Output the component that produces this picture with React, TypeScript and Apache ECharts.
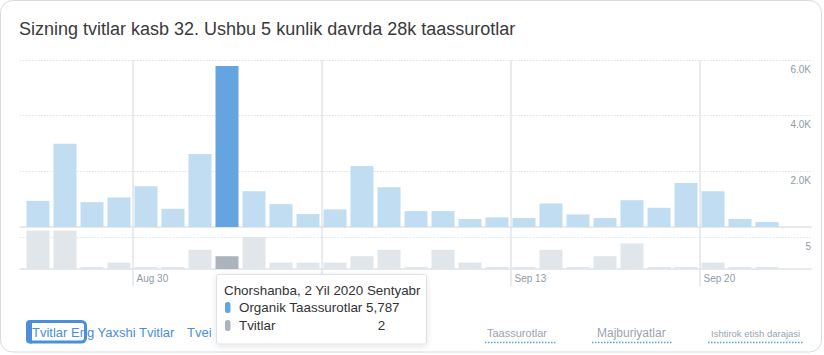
import React, { useEffect, useRef } from 'react';
import * as echarts from 'echarts';

const titleText = 'Sizning tvitlar kasb 32. Ushbu 5 kunlik davrda 28k taassurotlar';

const days = [
  'Aug 26', 'Aug 27', 'Aug 28', 'Aug 29', 'Aug 30', 'Aug 31', 'Sep 1',
  'Sep 2', 'Sep 3', 'Sep 4', 'Sep 5', 'Sep 6', 'Sep 7', 'Sep 8',
  'Sep 9', 'Sep 10', 'Sep 11', 'Sep 12', 'Sep 13', 'Sep 14', 'Sep 15',
  'Sep 16', 'Sep 17', 'Sep 18', 'Sep 19', 'Sep 20', 'Sep 21', 'Sep 22',
];

const organic = [
  940, 2990, 893, 1060, 1464, 655, 2619,
  5787, 1286, 821, 464, 631, 2190, 1429,
  571, 571, 286, 345, 321, 845, 452,
  321, 964, 690, 1583, 1286, 286, 179,
];

const tweets = [
  6, 6, 0, 1, 0, 0, 3,
  2, 5, 1, 1, 1, 2, 3,
  0, 3, 1, 0, 0, 3, 0,
  2, 4, 0, 0, 1, 0, 0,
];

const weekStartIdx = [4, 11, 18, 25];
const labeledDays = ['Aug 30', 'Sep 13', 'Sep 20'];
const organicMax = 6000;
const organicStep = 2000;
const tweetMax = 5;
const tweetStep = 5;

const seriesNames = ['Organik Taassurotlar', 'Tvitlar'];
const hoverIndex = 7;
const hoverDateLabel = 'Chorshanba, 2 Yil 2020 Sentyabr';
const leftTabText = 'Tvitlar Eng Yaxshi Tvitlar';
const cutTabText = 'Tvei';
const rightTabs = ['Taassurotlar', 'Majburiyatlar', 'Ishtirok etish darajasi'];

const FONT = '"Liberation Sans", Arial, Helvetica, sans-serif';
const LIGHT_BLUE = '#c1ddf2';
const DARK_BLUE = '#63a4e1';
const LIGHT_GRAY = '#e1e6ea';
const DARK_GRAY = '#abb4bd';
const LINE = '#e1e6ea';
const LABEL = '#8f9ba6';
const TAB_BLUE = '#4a8fd6';

function buildOption() {
  const gridLeft = 24.5;
  const gridW = days.length * 27;
  const noAxis = { show: false };
  const hiddenX = (gridIndex: number) => ({ gridIndex, type: 'category', data: days, show: false });
  const baselineX = (gridIndex: number) => ({
    gridIndex, type: 'value', min: 0, max: 1, position: 'bottom',
    axisLine: { show: true, lineStyle: { color: LINE, width: 1.5 } },
    axisTick: noAxis, axisLabel: noAxis, splitLine: noAxis,
  });
  const gridY = (gridIndex: number, max: number, step: number, fmt: (v: number) => string) => ({
    gridIndex, type: 'value', position: 'right', min: 0, max, interval: step,
    axisLine: noAxis, axisTick: noAxis,
    splitLine: { show: true, lineStyle: { color: '#dfe4e8', type: [1.5, 1.5], width: 1 } },
    axisLabel: {
      inside: true, margin: 0, showMinLabel: false, color: LABEL, fontSize: 10,
      fontFamily: FONT, verticalAlign: 'top', padding: [4, 0, 0, 0], formatter: fmt,
    },
  });
  const lineColors = Array.from({ length: 7 }, (_, k) =>
    k === weekStartIdx[0] % 7 ? LINE : 'rgba(0,0,0,0)');

  return {
    animation: false,
    textStyle: { fontFamily: FONT },
    grid: [
      { left: gridLeft, width: gridW, top: 60, height: 167, outerBoundsMode: 'none' },
      { left: gridLeft, width: gridW, top: 237, height: 32, outerBoundsMode: 'none' },
      { left: 20, width: 791, top: 60, height: 167, outerBoundsMode: 'none' },
      { left: 20, width: 791, top: 237, height: 32, outerBoundsMode: 'none' },
      { left: gridLeft, width: gridW, top: 60, height: 226, outerBoundsMode: 'none' },
      { left: gridLeft, width: gridW, top: 60, height: 209, outerBoundsMode: 'none' },
    ],
    xAxis: [
      hiddenX(0),
      hiddenX(1),
      baselineX(2),
      baselineX(3),
      {
        gridIndex: 4, type: 'value', min: 0, max: days.length, interval: 1,
        axisLine: noAxis, axisTick: noAxis, axisLabel: noAxis,
        splitLine: { show: true, lineStyle: { color: lineColors, width: 1.5 } },
      },
      {
        gridIndex: 5, type: 'value', min: 0, max: days.length, interval: 1,
        axisLine: noAxis, axisTick: noAxis, splitLine: noAxis,
        axisLabel: {
          show: true, margin: 4, align: 'left', padding: [0, 0, 0, 4],
          color: LABEL, fontSize: 10, fontFamily: FONT, hideOverlap: false,
          formatter: (v: number) => {
            const d = days[Math.round(v)];
            return d && labeledDays.includes(d) ? d : '';
          },
        },
      },
    ],
    yAxis: [
      { gridIndex: 0, type: 'value', min: 0, max: organicMax, show: false },
      { gridIndex: 1, type: 'value', min: 0, max: tweetMax, show: false },
      gridY(2, organicMax, organicStep, (v) => (v / 1000).toFixed(1) + 'K'),
      gridY(3, tweetMax, tweetStep, (v) => String(v)),
      { gridIndex: 4, type: 'value', show: false },
      { gridIndex: 5, type: 'value', show: false },
    ],
    series: [
      {
        name: seriesNames[0], type: 'bar', xAxisIndex: 0, yAxisIndex: 0, barWidth: 23, z: 3,
        data: organic.map((v, i) => ({
          value: v, itemStyle: { color: i === hoverIndex ? DARK_BLUE : LIGHT_BLUE },
        })),
      },
      {
        name: seriesNames[1], type: 'bar', xAxisIndex: 1, yAxisIndex: 1, barWidth: 23,
        barMinHeight: 2, clip: false, z: 3,
        data: tweets.map((v, i) => ({
          value: v, itemStyle: { color: i === hoverIndex ? DARK_GRAY : LIGHT_GRAY },
        })),
      },
    ],
    graphic: [
      {
        type: 'rect', z: -1, silent: true,
        shape: { x: 0.5, y: 0.5, width: 821, height: 351.5, r: 12 },
        style: { fill: 'rgba(0,0,0,0)', stroke: '#d5dce2', lineWidth: 1 },
      },
      {
        type: 'text', x: 19, y: 29,
        style: { text: titleText, fill: '#3a3a3a', font: `18px ${FONT}`, verticalAlign: 'middle' },
      },
      // left tabs
      {
        type: 'text', x: 32, y: 332,
        style: { text: leftTabText, fill: TAB_BLUE, font: `13px ${FONT}`, verticalAlign: 'middle' },
      },
      {
        type: 'text', x: 187, y: 332,
        style: { text: cutTabText, fill: TAB_BLUE, font: `13px ${FONT}`, verticalAlign: 'middle' },
      },
      {
        type: 'rect', z: 5,
        shape: { x: 27.5, y: 321.5, width: 58, height: 20.5, r: 4 },
        style: { fill: 'rgba(0,0,0,0)', stroke: '#4b8fdc', lineWidth: 3 },
      },
      {
        type: 'rect', z: 5,
        shape: { x: 26, y: 320, width: 6, height: 23.5, r: [4, 0, 0, 4] },
        style: { fill: '#4b8fdc' },
      },
      // right tabs
      {
        type: 'text', x: 487, y: 333,
        style: { text: rightTabs[0], fill: '#9aa5af', font: `11px ${FONT}`, verticalAlign: 'middle' },
      },
      {
        type: 'text', x: 597, y: 333,
        style: { text: rightTabs[1], fill: '#9aa5af', font: `12px ${FONT}`, verticalAlign: 'middle' },
      },
      {
        type: 'text', x: 711, y: 333,
        style: { text: rightTabs[2], fill: '#9aa5af', font: `9.5px ${FONT}`, verticalAlign: 'middle' },
      },
      ...[[485, 557], [592, 672], [708, 804]].map(([a, b]) => ({
        type: 'line',
        shape: { x1: a, y1: 342.5, x2: b, y2: 342.5 },
        style: { stroke: '#5da0e2', lineWidth: 1.5, lineDash: [1.5, 1.5] },
      })),
      // tooltip
      {
        type: 'group', z: 100,
        children: [
          {
            type: 'rect', z: 100,
            shape: { x: 216.5, y: 274.5, width: 210, height: 69.5, r: 2 },
            style: {
              fill: '#ffffff', stroke: '#dde2e6', lineWidth: 1,
              shadowBlur: 6, shadowColor: 'rgba(0,0,0,0.10)', shadowOffsetY: 2,
            },
          },
          {
            type: 'text', z: 101, x: 224, y: 290,
            style: { text: hoverDateLabel, fill: '#333333', font: `13.4px ${FONT}`, verticalAlign: 'middle' },
          },
          {
            type: 'rect', z: 101,
            shape: { x: 225, y: 302, width: 5.5, height: 11, r: 2.5 },
            style: { fill: DARK_BLUE },
          },
          {
            type: 'text', z: 101, x: 239, y: 307.5,
            style: {
              text: `${seriesNames[0]} ${organic[hoverIndex].toLocaleString('en-US')}`,
              fill: '#333333', font: `13.4px ${FONT}`, verticalAlign: 'middle',
            },
          },
          {
            type: 'rect', z: 101,
            shape: { x: 225, y: 320, width: 5.5, height: 11, r: 2.5 },
            style: { fill: DARK_GRAY },
          },
          {
            type: 'text', z: 101, x: 239, y: 325.5,
            style: { text: seriesNames[1], fill: '#333333', font: `13.4px ${FONT}`, verticalAlign: 'middle' },
          },
          {
            type: 'text', z: 101, x: 381.5, y: 325.5,
            style: {
              text: String(tweets[hoverIndex]), fill: '#333333', font: `13.4px ${FONT}`,
              verticalAlign: 'middle', align: 'center',
            },
          },
        ],
      },
    ],
  };
}

export default function App() {
  const ref = useRef<HTMLDivElement>(null);
  useEffect(() => {
    if (!ref.current) return;
    const chart = echarts.init(ref.current, undefined, { renderer: 'svg' });
    chart.setOption(buildOption() as any);
    return () => chart.dispose();
  }, []);
  return (
    <div
      ref={ref}
      style={{ position: 'absolute', left: 0, top: 0, width: 824, height: 355, background: '#fff' }}
    />
  );
}
